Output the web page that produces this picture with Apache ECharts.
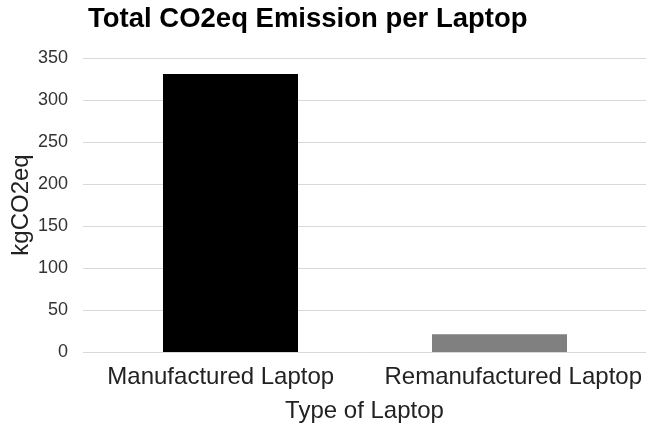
<!DOCTYPE html>
<html>
<head>
<meta charset="utf-8">
<script src="https://cdn.jsdelivr.net/npm/echarts@6/dist/echarts.min.js"></script>
<style>
  html, body { margin: 0; padding: 0; background: #fff; }
  #chart { width: 646px; height: 427px; }
</style>
</head>
<body>
<div id="chart"></div>
<script>
// Laptop types and their total emissions (kgCO2eq)
const categories = ['Manufactured Laptop', 'Remanufactured Laptop'];
const emissions = [331, 21];
const barColors = ['#000000', '#808080'];
const yTicks = { min: 0, max: 350, step: 50 };

const FONT = '"Liberation Sans", Arial, sans-serif';

const chart = echarts.init(document.getElementById('chart'), null, { renderer: 'canvas' });

chart.setOption({
  animation: false,
  backgroundColor: '#ffffff',
  title: {
    text: 'Total CO2eq Emission per Laptop',
    left: 83,
    top: 0,
    textStyle: { fontFamily: FONT, fontSize: 27.5, fontWeight: 'bold', color: '#000' }
  },
  grid: [
    // full-width frame: value scale, gridlines and category labels
    { left: 83, right: 0, top: 58, bottom: 75, containLabel: false, outerBoundsMode: 'none' },
    // inner frame holding the bars
    { left: 96, right: 12, top: 58, bottom: 75, containLabel: false, outerBoundsMode: 'none' }
  ],
  xAxis: [
    {
      type: 'category',
      gridIndex: 0,
      data: [
        { value: categories[0], textStyle: { padding: [0, 6, 0, 0] } },
        { value: categories[1], textStyle: { padding: [0, 0, 0, 16] } }
      ],
      axisLine: { show: false },
      axisTick: { show: false },
      axisLabel: { fontFamily: FONT, fontSize: 24, color: '#222', margin: 13, interval: 0, hideOverlap: false },
      name: 'Type of Laptop',
      nameLocation: 'middle',
      nameGap: 47,
      nameMoveOverlap: false,
      nameTextStyle: { fontFamily: FONT, fontSize: 24, color: '#222' }
    },
    {
      type: 'category',
      gridIndex: 1,
      data: categories,
      axisLine: { show: false },
      axisTick: { show: false },
      axisLabel: { show: false }
    }
  ],
  yAxis: [
    {
      type: 'value',
      gridIndex: 0,
      min: yTicks.min,
      max: yTicks.max,
      interval: yTicks.step,
      axisLine: { show: false },
      axisTick: { show: false },
      axisLabel: { fontFamily: FONT, fontSize: 18, color: '#333', margin: 15 },
      splitLine: { lineStyle: { color: '#d9d9d9', width: 1 } },
      name: 'kgCO2eq',
      nameLocation: 'middle',
      nameRotate: 90,
      nameGap: 50,
      nameMoveOverlap: false,
      nameTextStyle: { fontFamily: FONT, fontSize: 24, color: '#222' }
    },
    {
      type: 'value',
      gridIndex: 1,
      min: yTicks.min,
      max: yTicks.max,
      interval: yTicks.step,
      axisLine: { show: false },
      axisTick: { show: false },
      axisLabel: { show: false },
      splitLine: { show: false }
    }
  ],
  series: [
    {
      type: 'bar',
      xAxisIndex: 1,
      yAxisIndex: 1,
      barWidth: 135,
      data: emissions.map((v, i) => ({ value: v, itemStyle: { color: barColors[i] } }))
    }
  ]
});
</script>
</body>
</html>
